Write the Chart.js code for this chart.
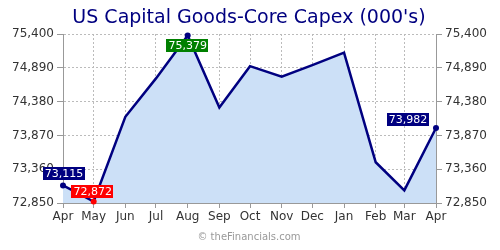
<!DOCTYPE html>
<html lang="en">
<head>
    <meta charset="UTF-8">
    <title>US Capital Goods-Core Capex</title>
    <script src="https://cdn.jsdelivr.net/npm/chart.js@4.4.0/dist/chart.umd.min.js"></script>
    <style>
        html, body { margin: 0; padding: 0; background: #fff; }
        .wrap { position: relative; width: 500px; height: 250px; }
    </style>
</head>
<body>
<div class="wrap"><canvas id="chart" width="500" height="250"></canvas></div>
<script>
  // months and day offsets from the first Apr
  const months = ['Apr', 'May', 'Jun', 'Jul', 'Aug', 'Sep', 'Oct', 'Nov', 'Dec', 'Jan', 'Feb', 'Mar', 'Apr'];
  const days = [0, 30, 61, 91, 122, 153, 183, 214, 244, 275, 306, 334, 365];
  const capex = [73115, 72872, 74150, 74730, 75379, 74290, 74915, 74755, 74930, 75120, 73465, 73040, 73982];
  const yTicks = [72850, 73360, 73870, 74380, 74890, 75400];

  const navy = '#000080';
  const fmt = v => v.toLocaleString('en-US');

  // value boxes: index, colour, offset of box centre from the point
  const callouts = [
    { i: 0, bg: navy, dx: 1, dy: -12 },
    { i: 1, bg: '#ff0000', dx: -1, dy: -10 },
    { i: 4, bg: '#008000', dx: 0, dy: 10.5 },
    { i: 12, bg: navy, dx: -28, dy: -8 }
  ];

  const pointShown = capex.map((_, i) => callouts.some(c => c.i === i) ? 3 : 0);
  const pointColor = capex.map((_, i) => i === 1 ? '#ff0000' : navy);

  const extras = {
    id: 'extras',
    afterDraw(chart) {
      const ctx = chart.ctx;
      const meta = chart.getDatasetMeta(0);
      ctx.save();
      // title
      ctx.fillStyle = navy;
      ctx.font = '19px "DejaVu Sans", sans-serif';
      ctx.textAlign = 'center';
      ctx.textBaseline = 'middle';
      ctx.fillText("US Capital Goods-Core Capex (000's)", 249, 18);
      // credit
      ctx.fillStyle = '#999';
      ctx.font = '10px "DejaVu Sans", sans-serif';
      ctx.fillText('\u00a9 theFinancials.com', 249, 237);
      // value boxes
      ctx.font = '11px "DejaVu Sans", sans-serif';
      callouts.forEach(c => {
        const p = meta.data[c.i];
        const txt = fmt(capex[c.i]);
        const w = ctx.measureText(txt).width + 4;
        const h = 13;
        const cx = p.x + c.dx, cy = p.y + c.dy;
        ctx.fillStyle = c.bg;
        ctx.fillRect(Math.round(cx - w / 2), Math.round(cy - h / 2), Math.round(w), h);
        ctx.fillStyle = '#fff';
        ctx.fillText(txt, cx, cy + 0.5);
      });
      ctx.restore();
    }
  };

  const tickFont = { family: '"DejaVu Sans", sans-serif', size: 12 };

  const yAxis = (pos, width) => ({
    type: 'linear',
    position: pos,
    min: 72850,
    max: 75400,
    afterBuildTicks: s => { s.ticks = yTicks.map(v => ({ value: v })); },
    afterFit: s => { s.width = width; },
    ticks: { font: tickFont, color: '#333', padding: 3, callback: v => fmt(v) },
    grid: {
      color: '#bbb',
      drawOnChartArea: pos === 'left',
      tickLength: 6,
      tickColor: '#999'
    },
    border: { color: '#999', dash: [2, 2] }
  });

  new Chart(document.getElementById('chart'), {
    type: 'line',
    data: {
      datasets: [{
        data: days.map((d, i) => ({ x: d, y: capex[i] })),
        borderColor: navy,
        borderWidth: 2.5,
        backgroundColor: 'rgb(204,224,247)',
        fill: 'start',
        tension: 0,
        pointRadius: pointShown,
        pointBackgroundColor: pointColor,
        pointBorderColor: pointColor,
        pointBorderWidth: 0,
        clip: false
      }]
    },
    options: {
      responsive: false,
      animation: false,
      layout: { padding: { top: 34, left: 0, right: 0, bottom: 0 } },
      plugins: { legend: { display: false }, tooltip: { enabled: false } },
      scales: {
        x: {
          type: 'linear',
          min: 0,
          max: 365,
          afterBuildTicks: s => { s.ticks = days.map(v => ({ value: v })); },
          afterFit: s => { s.height = 47; },
          ticks: {
            font: tickFont,
            color: '#333',
            padding: 2,
            maxRotation: 0,
            autoSkip: false,
            callback: (v, i) => months[i]
          },
          grid: { color: '#bbb', tickLength: 5, tickColor: '#999' },
          border: { color: '#999', dash: [2, 2] }
        },
        y: yAxis('left', 63),
        y2: yAxis('right', 64)
      }
    },
    plugins: [extras]
  });
</script>
</body>
</html>
